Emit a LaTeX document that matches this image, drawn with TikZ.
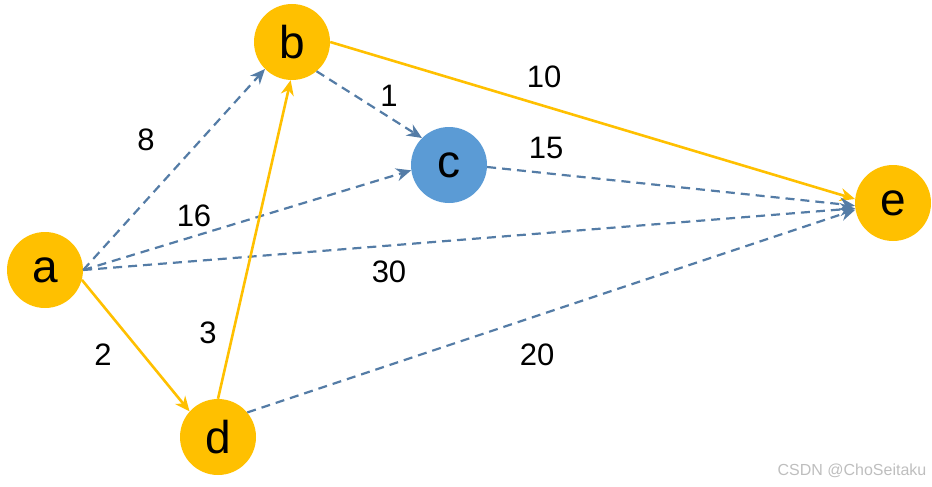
\documentclass[tikz,border=0pt]{standalone}
\usepackage{fontspec}
\setmainfont{Liberation Sans}
\usetikzlibrary{arrows.meta}
\definecolor{gold}{RGB}{255,192,0}
\definecolor{nodeblue}{RGB}{91,155,213}
\definecolor{edgeblue}{RGB}{84,124,166}
\definecolor{wm}{RGB}{190,190,190}
\begin{document}
\begin{tikzpicture}[x=1pt,y=-1pt,
  vert/.style={circle,fill=gold,minimum size=76pt,inner sep=0pt,font=\fontsize{46}{50}\selectfont},
  vertc/.style={vert,fill=nodeblue},
  solidedge/.style={draw=gold,line width=2.6pt,-{Stealth[length=15pt,width=13pt]}},
  dashedge/.style={draw=edgeblue,line width=2.2pt,dash pattern=on 9pt off 6pt,-{Stealth[length=15pt,width=13pt]}},
  wlabel/.style={font=\fontsize{31}{34}\selectfont,inner sep=0pt},
  wmtext/.style={font=\fontsize{16}{18}\selectfont,text=wm,inner sep=0pt}]
\useasboundingbox (0,0) rectangle (932,487);
\node[vert]  (a) at (45,270)  {a};
\node[vert]  (b) at (292,42)  {b};
\node[vertc] (c) at (449,165) {c};
\node[vert]  (d) at (218,437) {d};
\node[vert]  (e) at (893,203) {e};
% edges
\draw[dashedge] (a.east) -- (b.225);
\draw[dashedge] (a.east) -- (c.188);
\draw[dashedge] (a.east) -- (e.188);
\draw[solidedge] (a.-15) -- (d.138);
\draw[solidedge] (d.north) -- (b.-92);
\draw[dashedge] (d.40) -- (e.190);
\draw[dashedge] (b.-50) -- (c.135);
\draw[solidedge] (b.east) -- (e.174);
\draw[dashedge] (c.-3) -- (e.184);
% labels
\node[wlabel] (l8)  at (146,140) {8};
\node[wlabel] (l16) at (194,216) {16};
\node[wlabel] (l30) at (389,272) {30};
\node[wlabel] (l2)  at (103,355) {2};
\node[wlabel] (l3)  at (208,333) {3};
\node[wlabel] (l20) at (537,355) {20};
\node[wlabel] (l1)  at (389,96)  {1};
\node[wlabel] (l10) at (544,77)  {10};
\node[wlabel] (l15) at (546,148) {15};
\node[wmtext] (wmk) at (852,471) {CSDN @ChoSeitaku};
\end{tikzpicture}
\end{document}
